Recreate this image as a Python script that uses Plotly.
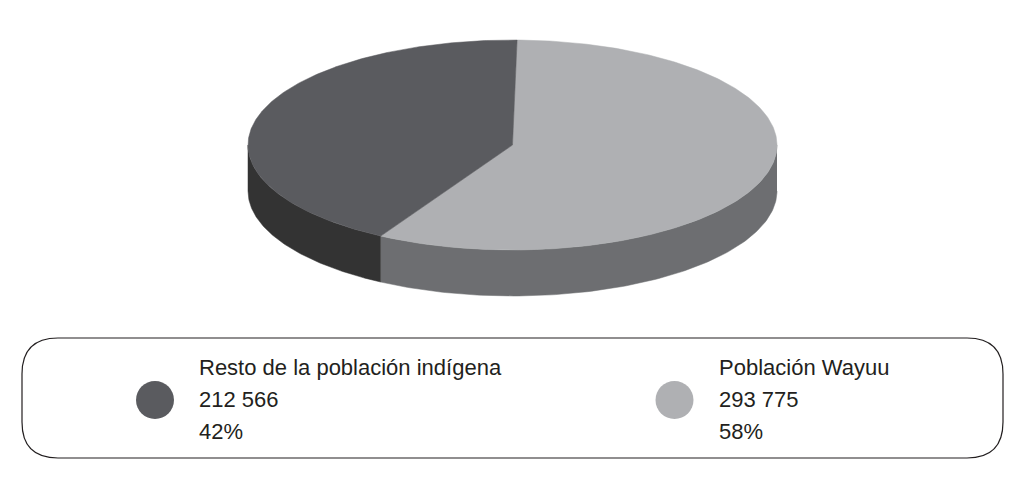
import numpy as np
import plotly.graph_objects as go

categories = ["Población Wayuu", "Resto de la población indígena"]
values = [293775, 212566]
value_labels = ["293 775", "212 566"]
percent_labels = ["58%", "42%"]

top_colors = ["#AFB0B3", "#5A5B5F"]
side_colors = ["#6D6E71", "#333333"]

CX, CY, RX, RY, DEPTH = 512.5, 145, 264.5, 105, 46
START = 1.0
FONT = "Liberation Sans"
TEXT = "#231F20"


def pt(theta):
    t = np.radians(theta)
    return CX + RX * np.sin(t), CY - RY * np.cos(t)


fig = go.Figure()
total = sum(values)
a = START
spans = []
for v in values:
    b = a + 360 * v / total
    spans.append((a, b))
    a = b


def poly(x, y, color, name):
    fig.add_trace(go.Scatter(x=x, y=y, mode="lines", fill="toself", fillcolor=color,
                             line=dict(width=0.5, color=color), name=name,
                             hoverinfo="name", showlegend=False))


# side walls (only the front half of the rim is visible)
for (a, b), c, n in zip(spans, side_colors, categories):
    lo, hi = max(a, 90), min(b, 270)
    if hi > lo:
        th = np.linspace(lo, hi, 120)
        x, y = pt(th)
        poly(np.r_[x, x[::-1]], np.r_[y, y[::-1] + DEPTH], c, n)

# top faces
for (a, b), c, n in zip(spans, top_colors, categories):
    th = np.linspace(a, b, 300)
    x, y = pt(th)
    poly(np.r_[CX, x, CX], np.r_[CY, y, CY], c, n)

# legend box
x0, x1, y0, y1, r = 22, 1003, 338, 458, 36
path = (f"M {x0+r} {y0} L {x1-r} {y0} Q {x1} {y0} {x1} {y0+r} L {x1} {y1-r} "
        f"Q {x1} {y1} {x1-r} {y1} L {x0+r} {y1} Q {x0} {y1} {x0} {y1-r} "
        f"L {x0} {y0+r} Q {x0} {y0} {x0+r} {y0} Z")
fig.add_shape(type="path", path=path, line=dict(color="#231F20", width=1.2),
              fillcolor="rgba(0,0,0,0)", layer="below")

# legend entries, left to right
order = [1, 0]
marker_x = [155, 674.5]
text_x = [197, 717]
line_y = [367, 399, 431]
for mx, tx, i in zip(marker_x, text_x, order):
    fig.add_trace(go.Scatter(x=[mx], y=[400], mode="markers",
                             marker=dict(size=38, color=top_colors[i], line=dict(width=0)),
                             name=categories[i], hoverinfo="name", showlegend=False))
    lines = [categories[i], value_labels[i], percent_labels[i]]
    for ly, s in zip(line_y, lines):
        fig.add_annotation(x=tx, y=ly, text=s, showarrow=False, xanchor="left", yanchor="middle",
                           font=dict(family=FONT, size=22, color=TEXT))

fig.update_xaxes(range=[0, 1024], visible=False)
fig.update_yaxes(range=[480, 0], visible=False)
fig.update_layout(width=1024, height=480, margin=dict(l=0, r=0, t=0, b=0),
                  paper_bgcolor="white", plot_bgcolor="white", showlegend=False)
fig.write_html("out.html", config={"displayModeBar": False},
               post_script="document.body.style.margin='0';document.documentElement.style.overflow='hidden';")
